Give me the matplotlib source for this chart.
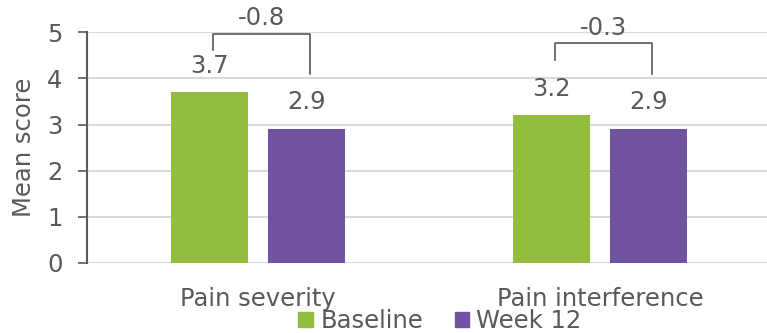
import numpy as np
import matplotlib as mpl
mpl.use('Agg')
import matplotlib.pyplot as plt
from matplotlib.patches import Patch

categories = ['Pain severity', 'Pain interference']
baseline = [3.7, 3.2]
week12 = [2.9, 2.9]
changes = ['-0.8', '-0.3']
series_names = ['Baseline', 'Week 12']

GREEN = '#92bd3f'
PURPLE = '#7053a1'
GRAY = '#595959'
GRID = '#d9d9d9'

plt.rcParams['font.family'] = 'DejaVu Sans'
fs = 17.5

fig = plt.figure(figsize=(7.67, 3.33), dpi=100)
ax = fig.add_axes([87 / 767, 1 - 263 / 333, 680 / 767, (263 - 32.3) / 333])

x = np.arange(len(categories))
w = 0.225
off = 0.142
ax.bar(x - off, baseline, w, color=GREEN, zorder=3)
ax.bar(x + off, week12, w, color=PURPLE, zorder=3)

# value labels above each bar
for xi, b, k in zip(x, baseline, week12):
    ax.text(xi - off, b + 0.58, f'{b:.1f}', ha='center', va='center', fontsize=fs, color=GRAY)
    ax.text(xi + off, k + 0.58, f'{k:.1f}', ha='center', va='center', fontsize=fs, color=GRAY)

# change brackets between baseline and week 12
bracket_top = [4.97, 4.77]
for i, (xi, b, k, lab) in enumerate(zip(x, baseline, week12, changes)):
    top = bracket_top[i]
    xl = xi - off + 0.01
    xr = xi + off + 0.01
    left_end = b + 0.92 if i == 0 else b + 1.2
    ax.plot([xl, xl, xr, xr], [left_end, top, top, k + 1.2],
            color=GRAY, lw=1.2, clip_on=False, zorder=4)
    ax.text((xl + xr) / 2, top + 0.33, lab, ha='center', va='center',
            fontsize=fs, color=GRAY, clip_on=False)

ax.set_xlim(-0.5, -0.5 + 680 / 342)
ax.set_ylim(0, 5)
ax.set_yticks(range(6))
ax.set_xticks(x)
ax.set_xticklabels(categories)
ax.tick_params(axis='y', length=6.5, width=1.2, color=GRAY, labelcolor=GRAY,
               labelsize=fs, pad=11)
ax.tick_params(axis='x', length=0, labelcolor=GRAY, labelsize=fs, pad=17)
ax.set_ylabel('Mean score', fontsize=fs, color=GRAY, labelpad=8)

ax.grid(axis='y', color=GRID, lw=1.5, zorder=0)
for s in ['top', 'right', 'bottom']:
    ax.spines[s].set_visible(False)
ax.spines['left'].set_color(GRAY)
ax.spines['left'].set_linewidth(1.5)
ax.spines['left'].set_zorder(5)

handles = [Patch(color=GREEN), Patch(color=PURPLE)]
fig.legend(handles, series_names, loc='center', bbox_to_anchor=(440 / 767, 1 - 321 / 333),
           ncol=2, frameon=False, fontsize=fs, labelcolor=GRAY,
           handlelength=0.6, handleheight=0.6, handletextpad=0.3,
           columnspacing=1.3, borderpad=0, borderaxespad=0)

fig.savefig('out.png', dpi=100)
